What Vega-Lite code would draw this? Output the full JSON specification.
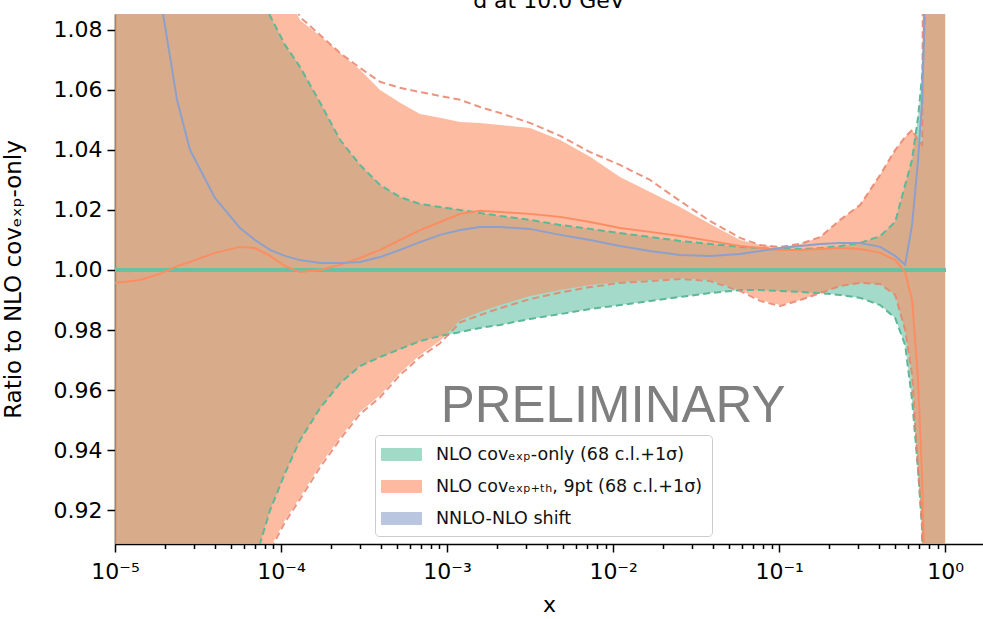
{
 "$schema": "https://vega.github.io/schema/vega-lite/v6.json",
 "width": 868, "height": 530,
 "autosize": {"type": "none"},
 "padding": {"left": 115, "top": 14, "right": 0, "bottom": 75},
 "background": "white",
 "config": {
  "view": {"stroke": null},
  "axis": {"grid": false, "domainColor": "#000", "tickColor": "#000", "labelColor": "#000", "titleColor": "#000", "labelFont": "DejaVu Sans", "titleFont": "DejaVu Sans", "labelFontSize": 22, "titleFontSize": 22, "titleFontWeight": "normal", "domainWidth": 1.5, "tickWidth": 1.5}
 },
 "data": {"values": [
  {"x":1e-5,"gh":1.2,"gl":0.8,"oh":1.2,"ol":0.8,"dh":1.2,"dl":0.8,"oc":0.9957,"sh":1.2},
  {"x":1.416e-5,"gh":1.2,"gl":0.8,"oh":1.2,"ol":0.8,"dh":1.2,"dl":0.8,"oc":0.9967,"sh":1.2},
  {"x":1.866e-5,"gh":1.2,"gl":0.8,"oh":1.2,"ol":0.8,"dh":1.2,"dl":0.8,"oc":0.9987,"sh":1.0917},
  {"x":2.363e-5,"gh":1.2,"gl":0.8,"oh":1.2,"ol":0.8,"dh":1.2,"dl":0.8,"oc":1.0013,"sh":1.0567},
  {"x":2.83e-5,"gh":1.2,"gl":0.8,"oh":1.2,"ol":0.8,"dh":1.2,"dl":0.8,"oc":1.0027,"sh":1.04},
  {"x":4.0e-5,"gh":1.2,"gl":0.8,"oh":1.2,"ol":0.8,"dh":1.2,"dl":0.8,"oc":1.0057,"sh":1.024},
  {"x":5.66e-5,"gh":1.11,"gl":0.8,"oh":1.2,"ol":0.8,"dh":1.2,"dl":0.8,"oc":1.0077,"sh":1.014},
  {"x":6.97e-5,"gh":1.0967,"gl":0.9033,"oh":1.2,"ol":0.8,"dh":1.2,"dl":0.8,"oc":1.0073,"sh":1.01},
  {"x":8.59e-5,"gh":1.0847,"gl":0.92,"oh":1.11,"ol":0.9073,"dh":1.115,"dl":0.9065,"oc":1.0047,"sh":1.0067},
  {"x":1.057e-4,"gh":1.075,"gl":0.9323,"oh":1.0933,"ol":0.9167,"dh":1.0983,"dl":0.916,"oc":1.0013,"sh":1.0047},
  {"x":1.30e-4,"gh":1.0677,"gl":0.9433,"oh":1.0833,"ol":0.9243,"dh":1.0843,"dl":0.9236,"oc":0.9993,"sh":1.0033},
  {"x":1.72e-4,"gh":1.0557,"gl":0.954,"oh":1.078,"ol":0.935,"dh":1.0783,"dl":0.9343,"oc":1.0,"sh":1.0023},
  {"x":2.27e-4,"gh":1.0433,"gl":0.9623,"oh":1.0723,"ol":0.9443,"dh":1.0723,"dl":0.9436,"oc":1.0017,"sh":1.0023},
  {"x":2.99e-4,"gh":1.035,"gl":0.968,"oh":1.0667,"ol":0.9527,"dh":1.0673,"dl":0.952,"oc":1.004,"sh":1.0027},
  {"x":3.95e-4,"gh":1.0283,"gl":0.971,"oh":1.06,"ol":0.9583,"dh":1.0627,"dl":0.9576,"oc":1.0067,"sh":1.0043},
  {"x":5.21e-4,"gh":1.0243,"gl":0.9737,"oh":1.0557,"ol":0.9657,"dh":1.0607,"dl":0.965,"oc":1.01,"sh":1.0067},
  {"x":6.87e-4,"gh":1.022,"gl":0.9763,"oh":1.052,"ol":0.9717,"dh":1.0593,"dl":0.971,"oc":1.0133,"sh":1.0093},
  {"x":9.07e-4,"gh":1.021,"gl":0.978,"oh":1.0507,"ol":0.9763,"dh":1.058,"dl":0.9756,"oc":1.016,"sh":1.0117},
  {"x":1.20e-3,"gh":1.02,"gl":0.9793,"oh":1.0493,"ol":0.9833,"dh":1.0567,"dl":0.9826,"oc":1.0187,"sh":1.0133},
  {"x":1.58e-3,"gh":1.019,"gl":0.9807,"oh":1.049,"ol":0.986,"dh":1.0543,"dl":0.985,"oc":1.0197,"sh":1.0143},
  {"x":2.09e-3,"gh":1.018,"gl":0.9817,"oh":1.0483,"ol":0.9883,"dh":1.0523,"dl":0.9873,"oc":1.0193,"sh":1.0143},
  {"x":3.16e-3,"gh":1.0167,"gl":0.9837,"oh":1.0473,"ol":0.9913,"dh":1.049,"dl":0.9903,"oc":1.0187,"sh":1.0137},
  {"x":4.80e-3,"gh":1.015,"gl":0.9853,"oh":1.0433,"ol":0.9933,"dh":1.0447,"dl":0.9925,"oc":1.0177,"sh":1.0117},
  {"x":7.27e-3,"gh":1.0137,"gl":0.987,"oh":1.0377,"ol":0.995,"dh":1.0393,"dl":0.9943,"oc":1.016,"sh":1.01},
  {"x":0.011,"gh":1.0123,"gl":0.9883,"oh":1.031,"ol":0.996,"dh":1.035,"dl":0.9957,"oc":1.014,"sh":1.008},
  {"x":0.0167,"gh":1.011,"gl":0.9897,"oh":1.026,"ol":0.9967,"dh":1.03,"dl":0.9963,"oc":1.0127,"sh":1.0063},
  {"x":0.0253,"gh":1.0097,"gl":0.991,"oh":1.021,"ol":0.9973,"dh":1.023,"dl":0.997,"oc":1.0113,"sh":1.005},
  {"x":0.0384,"gh":1.0087,"gl":0.9923,"oh":1.0153,"ol":0.9967,"dh":1.0163,"dl":0.9963,"oc":1.0097,"sh":1.0047},
  {"x":0.0582,"gh":1.0077,"gl":0.9933,"oh":1.01,"ol":0.9933,"dh":1.0107,"dl":0.993,"oc":1.008,"sh":1.0053},
  {"x":0.0769,"gh":1.0073,"gl":0.9933,"oh":1.0083,"ol":0.99,"dh":1.0083,"dl":0.9897,"oc":1.0073,"sh":1.0063},
  {"x":0.1014,"gh":1.007,"gl":0.993,"oh":1.0077,"ol":0.9883,"dh":1.0077,"dl":0.988,"oc":1.0067,"sh":1.0073},
  {"x":0.134,"gh":1.007,"gl":0.9927,"oh":1.0087,"ol":0.99,"dh":1.0087,"dl":0.99,"oc":1.0067,"sh":1.008},
  {"x":0.177,"gh":1.0073,"gl":0.9923,"oh":1.011,"ol":0.9923,"dh":1.011,"dl":0.9923,"oc":1.007,"sh":1.0087},
  {"x":0.233,"gh":1.008,"gl":0.9917,"oh":1.0167,"ol":0.9947,"dh":1.0167,"dl":0.9947,"oc":1.0073,"sh":1.009},
  {"x":0.308,"gh":1.009,"gl":0.9907,"oh":1.0217,"ol":0.9957,"dh":1.0217,"dl":0.9957,"oc":1.007,"sh":1.009},
  {"x":0.406,"gh":1.0113,"gl":0.9883,"oh":1.0317,"ol":0.9953,"dh":1.0317,"dl":0.9953,"oc":1.0057,"sh":1.0077},
  {"x":0.5,"gh":1.016,"gl":0.984,"oh":1.04,"ol":0.9917,"dh":1.04,"dl":0.9917,"oc":1.0033,"sh":1.0047},
  {"x":0.574,"gh":1.0283,"gl":0.975,"oh":1.0443,"ol":0.98,"dh":1.0443,"dl":0.98,"oc":0.9993,"sh":1.0017},
  {"x":0.632,"gh":1.0367,"gl":0.9567,"oh":1.0467,"ol":0.965,"dh":1.0467,"dl":0.965,"oc":0.99,"sh":1.015},
  {"x":0.687,"gh":1.051,"gl":0.9333,"oh":1.0433,"ol":0.9333,"dh":1.0433,"dl":0.9333,"oc":0.9633,"sh":1.0367},
  {"x":0.727,"gh":1.065,"gl":0.9133,"oh":1.0417,"ol":0.915,"dh":1.0417,"dl":0.915,"oc":0.93,"sh":1.0567},
  {"x":0.747,"gh":1.0767,"gl":0.8,"oh":1.2,"ol":0.8,"dh":1.2,"dl":0.8,"oc":0.9033,"sh":1.08},
  {"x":0.812,"gh":1.2,"gl":0.8,"oh":1.2,"ol":0.8,"dh":1.2,"dl":0.8,"oc":0.8,"sh":1.2},
  {"x":1.0,"gh":1.2,"gl":0.8,"oh":1.2,"ol":0.8,"dh":1.2,"dl":0.8,"oc":0.8,"sh":1.2}
 ]},
 "encoding": {
  "x": {"field": "x", "type": "quantitative",
   "scale": {"type": "log", "domain": [1e-5, 1.69], "nice": false},
   "axis": {
    "values": [1e-5,2e-5,3e-5,4e-5,5e-5,6e-5,7e-5,8e-5,9e-5,1e-4,2e-4,3e-4,4e-4,5e-4,6e-4,7e-4,8e-4,9e-4,0.001,0.002,0.003,0.004,0.005,0.006,0.007,0.008,0.009,0.01,0.02,0.03,0.04,0.05,0.06,0.07,0.08,0.09,0.1,0.2,0.3,0.4,0.5,0.6,0.7,0.8,0.9,1],
    "labelExpr": "abs(log(datum.value)/LN10 - round(log(datum.value)/LN10)) < 0.001 ? '10' + ['⁻⁵','⁻⁴','⁻³','⁻²','⁻¹','⁰'][round(log(datum.value)/LN10)+5] : ''",
    "tickSize": {"condition": {"test": "abs(log(datum.value)/LN10 - round(log(datum.value)/LN10)) < 0.001", "value": 8}, "value": 4.5},
    "labelOverlap": false, "labelFlush": false, "labelPadding": 9,
    "title": "x", "titlePadding": 12
   }
  }
 },
 "layer": [
  {"mark": {"type": "area", "opacity": 0.6, "clip": true},
   "encoding": {
    "y": {"field": "gl", "type": "quantitative",
     "scale": {"domain": [0.9087, 1.0853], "nice": false, "zero": false},
     "axis": {"values": [0.92,0.94,0.96,0.98,1.0,1.02,1.04,1.06,1.08], "format": ".2f", "tickSize": 8, "labelPadding": 5, "title": "Ratio to NLO covₑₓₚ-only", "titleFontSize": 23, "titlePadding": 28}},
    "y2": {"field": "gh"},
    "color": {"datum": "NLO covₑₓₚ-only (68 c.l.+1σ)",
     "scale": {"domain": ["NLO covₑₓₚ-only (68 c.l.+1σ)", "NLO covₑₓₚ₊ₜₕ, 9pt (68 c.l.+1σ)", "NNLO-NLO shift"], "range": ["#66c2a5", "#fc8d62", "#8da0cb"]},
     "legend": {
      "orient": "none", "legendX": 260, "legendY": 421, "title": null,
      "labelFont": "DejaVu Sans", "labelFontSize": 17.5, "labelColor": "#111", "labelLimit": 500,
      "symbolSize": 400, "symbolType": "M-2,-0.6H2V0.6H-2Z", "symbolStrokeWidth": 1,
      "fillColor": "white", "strokeColor": "#cccccc", "cornerRadius": 4,
      "padding": 9, "rowPadding": 13, "labelOffset": 24, "symbolOffset": 7
     }}
   }},
  {"mark": {"type": "area", "opacity": 0.6, "clip": true},
   "encoding": {"y": {"field": "ol", "type": "quantitative"}, "y2": {"field": "oh"},
    "color": {"datum": "NLO covₑₓₚ₊ₜₕ, 9pt (68 c.l.+1σ)"}}},
  {"mark": {"type": "rule", "color": "#66c2a5", "strokeWidth": 3},
   "encoding": {"x": {"datum": 1e-5}, "x2": {"datum": 1}, "y": {"datum": 1}}},
  {"mark": {"type": "line", "color": "#5cb896", "strokeWidth": 2, "strokeDash": [7, 4], "clip": true},
   "encoding": {"y": {"field": "gh", "type": "quantitative"}}},
  {"mark": {"type": "line", "color": "#5cb896", "strokeWidth": 2, "strokeDash": [7, 4], "clip": true},
   "encoding": {"y": {"field": "gl", "type": "quantitative"}}},
  {"mark": {"type": "line", "color": "#e8826a", "strokeWidth": 2, "strokeDash": [7, 4], "clip": true, "opacity": 0.85},
   "encoding": {"y": {"field": "dh", "type": "quantitative"}}},
  {"mark": {"type": "line", "color": "#e8826a", "strokeWidth": 2, "strokeDash": [7, 4], "clip": true, "opacity": 0.85},
   "encoding": {"y": {"field": "dl", "type": "quantitative"}}},
  {"mark": {"type": "line", "color": "#fc8d62", "strokeWidth": 2, "clip": true},
   "encoding": {"y": {"field": "oc", "type": "quantitative"}}},
  {"mark": {"type": "line", "strokeWidth": 2, "clip": true},
   "encoding": {"y": {"field": "sh", "type": "quantitative"}, "color": {"datum": "NNLO-NLO shift"}}},
  {"data": {"values": [{"x": 0.01, "y": 0.9493, "t": "PRELIMINARY"}]},
   "mark": {"type": "text", "font": "Liberation Sans", "fontSize": 51, "color": "#7f7f7f", "baseline": "alphabetic", "align": "center"},
   "encoding": {"y": {"field": "y", "type": "quantitative"}, "text": {"field": "t"}}},
  {"data": {"values": [{"x": 0.00411, "y": 1.0872, "t": "d at 10.0 GeV"}]},
   "mark": {"type": "text", "font": "DejaVu Sans", "fontSize": 22, "color": "#000", "baseline": "alphabetic", "align": "center"},
   "encoding": {"y": {"field": "y", "type": "quantitative"}, "text": {"field": "t"}}}
 ]
}
